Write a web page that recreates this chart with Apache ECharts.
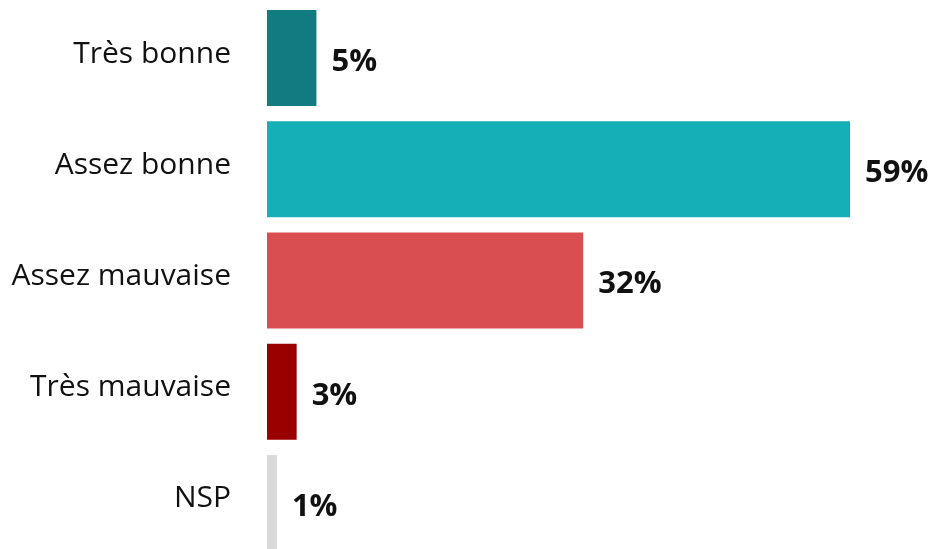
<!DOCTYPE html>
<html><head><meta charset="utf-8">
<script src="https://cdn.jsdelivr.net/npm/echarts@6/dist/echarts.min.js"></script>
<style>html,body{margin:0;padding:0;background:#fff}#c{width:936px;height:549px}</style>
</head><body><div id="c"></div>
<script>
const categories = ["Très bonne", "Assez bonne", "Assez mauvaise", "Très mauvaise", "NSP"];
const values = [5, 59, 32, 3, 1];
const colors = ["#127b81", "#14afb7", "#d94e51", "#990000", "#d9d9d9"];

const chart = echarts.init(document.getElementById('c'), null, {renderer: 'canvas'});
chart.setOption({
  animation: false,
  grid: {left: 267, right: 86, top: 2.5, height: 556, outerBoundsMode: 'none', containLabel: false},
  xAxis: {type: 'value', min: 0, max: 'dataMax', show: false},
  yAxis: {
    type: 'category', data: categories, inverse: true,
    axisLine: {show: false}, axisTick: {show: false},
    axisLabel: {margin: 36, fontFamily: 'Open Sans', fontSize: 30, color: '#111', verticalAlign: 'bottom', lineHeight: 8}
  },
  series: [{
    type: 'bar', barWidth: 96,
    data: values.map((v, i) => ({value: v, itemStyle: {color: colors[i]}})),
    label: {show: true, position: 'right', distance: 15, formatter: '{c}%', offset: [0, 4],
      fontFamily: 'Open Sans', fontWeight: 'bold', fontSize: 31, color: '#111'}
  }]
});
</script></body></html>
